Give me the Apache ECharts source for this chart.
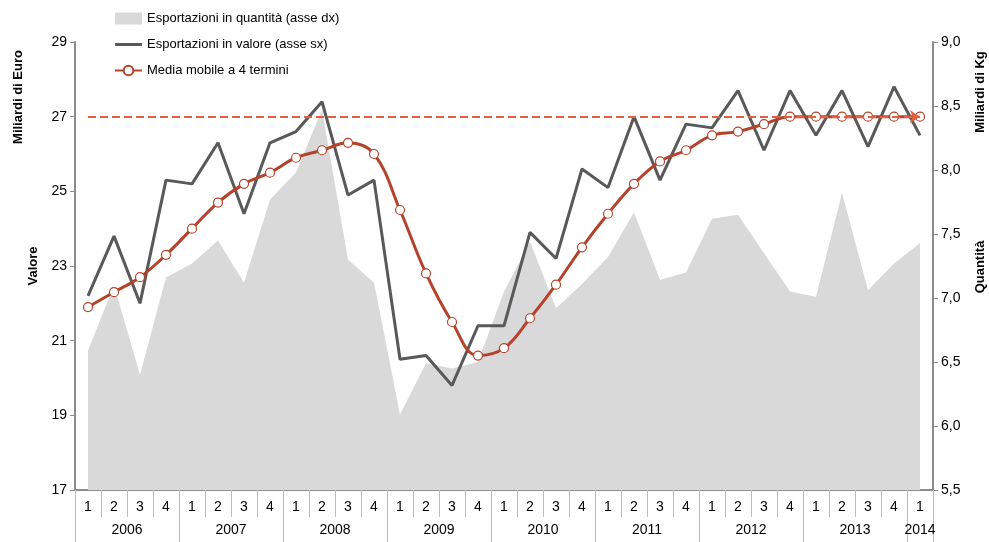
<!DOCTYPE html>
<html>
<head>
<meta charset="utf-8">
<script src="https://cdn.jsdelivr.net/npm/echarts@6/dist/echarts.min.js"></script>
<style>
  html, body { margin: 0; padding: 0; background: #fff; }
  #chart { width: 989px; height: 542px; }
</style>
</head>
<body>
<div id="chart"></div>
<script>
// anni e trimestri
const years = ['2006', '2007', '2008', '2009', '2010', '2011', '2012', '2013', '2014']
const quarters = ['1', '2', '3', '4']

// Esportazioni in valore (miliardi di euro, asse sx)
const valore = [
  22.2, 23.8, 22.0, 25.3,
  25.2, 26.3, 24.4, 26.3,
  26.6, 27.4, 24.9, 25.3,
  20.5, 20.6, 19.8, 21.4,
  21.4, 23.9, 23.2, 25.6,
  25.1, 27.0, 25.3, 26.8,
  26.7, 27.7, 26.1, 27.7,
  26.5, 27.7, 26.2, 27.8,
  26.5
]

// Media mobile a 4 termini (asse sx)
const mediaMobile = [
  21.9, 22.3, 22.7, 23.3,
  24.0, 24.7, 25.2, 25.5,
  25.9, 26.1, 26.3, 26.0,
  24.5, 22.8, 21.5, 20.6,
  20.8, 21.6, 22.5, 23.5,
  24.4, 25.2, 25.8, 26.1,
  26.5, 26.6, 26.8, 27.0,
  27.0, 27.0, 27.0, 27.0,
  27.0
]

// Esportazioni in quantità (miliardi di kg, asse dx)
const quantita = [
  6.59, 7.10, 6.40, 7.16,
  7.27, 7.45, 7.12, 7.77,
  7.98, 8.47, 7.30, 7.12,
  6.09, 6.49, 6.45, 6.50,
  7.05, 7.44, 6.92, 7.11,
  7.32, 7.67, 7.14, 7.20,
  7.62, 7.65, 7.35, 7.05,
  7.01, 7.82, 7.06, 7.27,
  7.43
]

const soglia = 27

// categorie: ogni trimestre dal 2006 al 1° trim. 2014
const categorie = []
years.forEach((y) => {
  quarters.forEach((q) => {
    if (categorie.length < valore.length) categorie.push(y + '-' + q)
  })
})
const ultimo = categorie.length - 1

const chart = echarts.init(document.getElementById('chart'))
const font = 'Liberation Sans, Arial, sans-serif'
const axisGrey = '#8c8c8c'
const sepGrey = '#bdbdbd'

const option = {
  textStyle: { fontFamily: font },
  animation: false,
  legend: {
    orient: 'vertical',
    left: 114,
    top: 12,
    padding: 0,
    itemWidth: 27,
    itemHeight: 12,
    itemGap: 13,
    symbolKeepAspect: true,
    textStyle: { fontSize: 13, color: '#000', fontFamily: font },
    data: [
      { name: 'Esportazioni in quantità (asse dx)', icon: 'rect' },
      { name: 'Esportazioni in valore (asse sx)', icon: 'path://M0,0L27,0L27,3L0,3Z' },
      { name: 'Media mobile a 4 termini' }
    ]
  },
  grid: { left: 75, right: 56, top: 42, bottom: 52 },
  xAxis: [
    {
      type: 'category',
      data: categorie,
      position: 'bottom',
      boundaryGap: true,
      axisLine: { show: true, lineStyle: { color: axisGrey, width: 2 } },
      axisTick: { show: true, interval: 0, length: 27, lineStyle: { color: sepGrey, width: 1 } },
      axisLabel: {
        interval: 0,
        margin: 10,
        fontSize: 14,
        color: '#000',
        formatter: (v) => v.split('-')[1]
      }
    },
    {
      type: 'category',
      data: categorie,
      position: 'bottom',
      offset: 0,
      boundaryGap: true,
      axisLine: { show: true, lineStyle: { color: axisGrey, width: 2 } },
      axisTick: {
        show: true,
        interval: (i) => i % 4 === 0,
        length: 52,
        lineStyle: { color: sepGrey, width: 1 }
      },
      axisLabel: {
        interval: (i) => i % 4 === 1 || i === ultimo,
        margin: 33,
        fontSize: 14,
        color: '#000',
        formatter: (v, i) => {
          const y = v.split('-')[0]
          return i === ultimo ? '{b|' + y + '}' : '{a|' + y + '}'
        },
        rich: {
          a: { fontSize: 14, color: '#000', padding: [0, 0, 0, 26] },
          b: { fontSize: 14, color: '#000' }
        }
      }
    }
  ],
  yAxis: [
    {
      type: 'value',
      min: 17,
      max: 29,
      interval: 2,
      position: 'left',
      splitLine: { show: false },
      axisLine: { show: true, lineStyle: { color: axisGrey, width: 2 } },
      axisTick: { show: true, length: 5, lineStyle: { color: axisGrey } },
      axisLabel: { fontSize: 14, color: '#000', margin: 8 }
    },
    {
      type: 'value',
      min: 5.5,
      max: 9,
      interval: 0.5,
      position: 'right',
      splitLine: { show: false },
      axisLine: { show: true, lineStyle: { color: axisGrey, width: 2 } },
      axisTick: { show: true, length: 5, lineStyle: { color: axisGrey } },
      axisLabel: {
        fontSize: 14,
        color: '#000',
        margin: 8,
        formatter: (v) => v.toFixed(1).replace('.', ',')
      }
    }
  ],
  graphic: [
    { type: 'text', x: 18, y: 97, rotation: Math.PI / 2,
      style: { text: 'Miliardi di Euro', font: 'bold 13px ' + font, fill: '#000', align: 'center', verticalAlign: 'middle' } },
    { type: 'text', x: 33, y: 266, rotation: Math.PI / 2,
      style: { text: 'Valore', font: 'bold 13px ' + font, fill: '#000', align: 'center', verticalAlign: 'middle' } },
    { type: 'text', x: 980, y: 92, rotation: Math.PI / 2,
      style: { text: 'Miliardi di Kg', font: 'bold 13px ' + font, fill: '#000', align: 'center', verticalAlign: 'middle' } },
    { type: 'text', x: 980, y: 267, rotation: Math.PI / 2,
      style: { text: 'Quantità', font: 'bold 13px ' + font, fill: '#000', align: 'center', verticalAlign: 'middle' } }
  ],
  series: [
    {
      name: 'Esportazioni in quantità (asse dx)',
      type: 'line',
      xAxisIndex: 0,
      yAxisIndex: 1,
      data: quantita,
      symbol: 'none',
      color: '#d9d9d9',
      lineStyle: { width: 0 },
      areaStyle: { color: '#d9d9d9', opacity: 1 },
      z: 1
    },
    {
      name: 'Esportazioni in valore (asse sx)',
      type: 'line',
      yAxisIndex: 0,
      data: valore,
      symbol: 'none',
      color: '#595959',
      lineStyle: { color: '#595959', width: 3 },
      z: 3,
      markLine: {
        silent: true,
        symbol: ['none', 'arrow'],
        symbolSize: 10,
        label: { show: false },
        lineStyle: { color: '#e2603f', width: 2, type: 'dashed', dashOffset: 0 },
        data: [[
          { coord: [categorie[0], soglia] },
          { coord: [categorie[ultimo], soglia] }
        ]]
      }
    },
    {
      name: 'Media mobile a 4 termini',
      type: 'line',
      yAxisIndex: 0,
      data: mediaMobile,
      smooth: 0.4,
      symbol: 'circle',
      symbolSize: 9,
      color: '#b5432b',
      itemStyle: { color: '#fff', borderColor: '#b5432b', borderWidth: 1.2 },
      lineStyle: { color: '#b5432b', width: 3 },
      z: 4
    }
  ]
}

chart.setOption(option)
</script>
</body>
</html>
